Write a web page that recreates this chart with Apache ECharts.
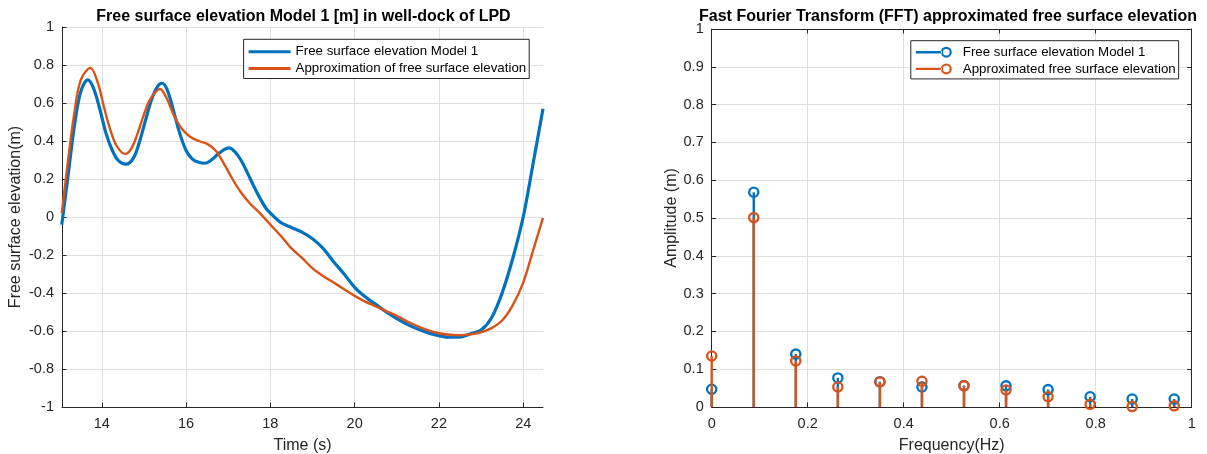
<!DOCTYPE html>
<html>
<head>
<meta charset="utf-8">
<script src="https://cdn.jsdelivr.net/npm/echarts@6/dist/echarts.min.js"></script>
<style>
  html, body { margin: 0; padding: 0; background: #fff; }
  #chart { width: 1207px; height: 454px; }
</style>
</head>
<body>
<div id="chart"></div>
<script>
// Measured free surface elevation, Model 1 (time in s, elevation in m)
const timeModel = [13.05, 13.2, 13.35, 13.5, 13.67, 13.8, 13.95, 14.1, 14.25, 14.4, 14.57, 14.75, 14.9, 15.05, 15.2, 15.33, 15.43, 15.55, 15.7, 15.85, 16.0, 16.15, 16.3, 16.45, 16.6, 16.75, 16.9, 17.02, 17.15, 17.3, 17.45, 17.6, 17.75, 17.9, 18.05, 18.25, 18.5, 18.75, 19.0, 19.25, 19.5, 19.75, 20.0, 20.25, 20.5, 20.75, 21.0, 21.25, 21.5, 21.75, 22.0, 22.25, 22.5, 22.75, 23.0, 23.25, 23.5, 23.75, 24.0, 24.25, 24.47];
const elevModel = [-0.04, 0.22, 0.48, 0.66, 0.722, 0.68, 0.57, 0.44, 0.35, 0.295, 0.278, 0.31, 0.40, 0.52, 0.63, 0.69, 0.704, 0.67, 0.56, 0.44, 0.35, 0.305, 0.288, 0.283, 0.30, 0.33, 0.355, 0.364, 0.345, 0.30, 0.235, 0.165, 0.10, 0.045, 0.01, -0.03, -0.055, -0.08, -0.115, -0.165, -0.235, -0.30, -0.37, -0.42, -0.46, -0.50, -0.535, -0.565, -0.59, -0.61, -0.624, -0.633, -0.632, -0.615, -0.595, -0.53, -0.40, -0.22, 0.0, 0.3, 0.57];

// Fourier approximation of the same signal
const timeApprox = [13.05, 13.2, 13.35, 13.5, 13.73, 13.9, 14.05, 14.2, 14.35, 14.55, 14.7, 14.85, 15.0, 15.15, 15.38, 15.55, 15.7, 15.85, 16.0, 16.15, 16.3, 16.5, 16.7, 16.9, 17.1, 17.3, 17.5, 17.75, 18.0, 18.25, 18.5, 18.75, 19.0, 19.25, 19.5, 19.75, 20.0, 20.25, 20.5, 20.75, 21.0, 21.25, 21.5, 21.75, 22.0, 22.25, 22.5, 22.75, 23.0, 23.25, 23.5, 23.75, 24.0, 24.25, 24.47];
const elevApprox = [0.02, 0.3, 0.55, 0.72, 0.785, 0.71, 0.58, 0.46, 0.375, 0.332, 0.36, 0.44, 0.54, 0.62, 0.674, 0.62, 0.54, 0.48, 0.44, 0.415, 0.40, 0.385, 0.35, 0.28, 0.20, 0.13, 0.075, 0.02, -0.04, -0.10, -0.165, -0.215, -0.27, -0.31, -0.345, -0.38, -0.415, -0.445, -0.47, -0.495, -0.52, -0.55, -0.575, -0.597, -0.612, -0.62, -0.622, -0.618, -0.607, -0.585, -0.545, -0.465, -0.345, -0.165, -0.005];

// FFT amplitude spectrum
const frequencies = [0, 0.0876, 0.1752, 0.2628, 0.3504, 0.438, 0.5256, 0.6132, 0.7008, 0.7884, 0.876, 0.9636];
const ampModel = [0.047, 0.568, 0.140, 0.077, 0.067, 0.053, 0.057, 0.056, 0.046, 0.027, 0.021, 0.021];
const ampApprox = [0.135, 0.501, 0.122, 0.053, 0.066, 0.068, 0.056, 0.045, 0.027, 0.007, 0.001, 0.003];

// Tick labels
const timeTicks = [14, 16, 18, 20, 22, 24];

const BLUE = '#0072BD';
const ORANGE = '#D95319';
const INK = '#262626';
const GRID = '#dfdfdf';
const FONT = "'Liberation Sans', Arial, Helvetica, sans-serif";

const nameModel = 'Free surface elevation Model 1';
const nameApprox = 'Approximation of free surface elevation';
const nameApproxFFT = 'Approximated free surface elevation';

const zip = (xs, ys) => xs.map((x, i) => [x, ys[i]]);

// Legend symbol for stem plots: a short line ending in an open circle
const stemIcon = 'path://M0 4.3L26 4.3L26 6.7L0 6.7Z' +
  'M36 5.5A5.5 5.5 0 1 0 25 5.5A5.5 5.5 0 1 0 36 5.5Z' +
  'M33.8 5.5A3.3 3.3 0 1 1 27.2 5.5A3.3 3.3 0 1 1 33.8 5.5Z';

function stemSeries(name, color, values) {
  return {
    type: 'custom',
    name: name,
    xAxisIndex: 1,
    yAxisIndex: 1,
    itemStyle: { color: color },
    data: zip(frequencies, values),
    renderItem: function (params, api) {
      const base = api.coord([api.value(0), 0]);
      const tip = api.coord([api.value(0), api.value(1)]);
      return {
        type: 'group',
        children: [
          { type: 'line', shape: { x1: base[0], y1: base[1], x2: tip[0], y2: tip[1] },
            style: { stroke: color, lineWidth: 2.4 } },
          { type: 'circle', shape: { cx: tip[0], cy: tip[1], r: 4.6 },
            style: { fill: 'none', stroke: color, lineWidth: 2.3 } }
        ]
      };
    }
  };
}

const tickStyle = { inside: true, length: 4.5, lineStyle: { color: INK, width: 1 } };
const lineStyleAxis = { onZero: false, lineStyle: { color: INK, width: 1 } };
const labelStyle = { color: INK, fontSize: 14.5, fontFamily: FONT };
const nameStyle = { color: INK, fontSize: 16, fontFamily: FONT };

const chart = echarts.init(document.getElementById('chart'), null, { renderer: 'canvas' });

chart.setOption({
  animation: false,
  backgroundColor: '#fff',
  textStyle: { fontFamily: FONT },
  title: [
    { text: 'Free surface elevation Model 1 [m] in well-dock of LPD',
      left: 303.5, top: 9, padding: 0, textAlign: 'center',
      textStyle: { fontSize: 16, fontWeight: 'bold', color: '#000', fontFamily: FONT } },
    { text: 'Fast Fourier Transform (FFT) approximated free surface elevation',
      left: 948, top: 9, padding: 0, textAlign: 'center',
      textStyle: { fontSize: 16, fontWeight: 'bold', color: '#000', fontFamily: FONT } }
  ],
  grid: [
    { left: 62, top: 27, width: 481, height: 380, outerBoundsMode: 'none' },
    { left: 711.7, top: 29, width: 480, height: 378, outerBoundsMode: 'none' }
  ],
  legend: [
    { orient: 'vertical', left: 243.6, top: 39.3, selectedMode: false,
      data: [
        { name: nameModel, icon: 'rect', itemStyle: { color: BLUE, borderWidth: 0 } },
        { name: nameApprox, icon: 'rect', itemStyle: { color: ORANGE, borderWidth: 0 } }
      ],
      itemWidth: 42, itemHeight: 3, itemGap: 3.7,
      padding: [6, 3, 3.5, 5],
      borderColor: INK, borderWidth: 1, borderRadius: 0, backgroundColor: '#fff',
      textStyle: { fontSize: 13.3, color: '#000', fontFamily: FONT } },
    { orient: 'vertical', left: 910.8, top: 40.7, selectedMode: false,
      data: [
        { name: nameModel, icon: stemIcon, itemStyle: { color: BLUE, borderWidth: 0 } },
        { name: nameApproxFFT, icon: stemIcon, itemStyle: { color: ORANGE, borderWidth: 0 } }
      ],
      itemWidth: 36, itemHeight: 11, itemGap: 3.7,
      padding: [5, 3, 3.5, 5],
      borderColor: INK, borderWidth: 1, borderRadius: 0, backgroundColor: '#fff',
      textStyle: { fontSize: 13.3, color: '#000', fontFamily: FONT, padding: [0, 0, 0, 6] } }
  ],
  xAxis: [
    { gridIndex: 0, type: 'value', min: 13.055, max: 24.47,
      axisLine: lineStyleAxis,
      axisTick: Object.assign({ customValues: timeTicks }, tickStyle),
      axisLabel: Object.assign({ customValues: timeTicks, margin: 9 }, labelStyle),
      splitLine: { show: true, lineStyle: { color: GRID, width: 1 } },
      name: 'Time (s)', nameLocation: 'middle', nameGap: 31, nameTextStyle: nameStyle },
    { gridIndex: 1, type: 'value', min: 0, max: 1, interval: 0.2,
      axisLine: lineStyleAxis, axisTick: tickStyle,
      axisLabel: Object.assign({ margin: 9 }, labelStyle),
      splitLine: { show: true, lineStyle: { color: GRID, width: 1 } },
      name: 'Frequency(Hz)', nameLocation: 'middle', nameGap: 31, nameTextStyle: nameStyle },
    { gridIndex: 1, type: 'value', position: 'top', min: 0, max: 1, interval: 0.2,
      axisLine: lineStyleAxis, axisTick: tickStyle,
      axisLabel: { show: false }, splitLine: { show: false } }
  ],
  yAxis: [
    { gridIndex: 0, type: 'value', min: -1, max: 1, interval: 0.2,
      axisLine: Object.assign({ show: true }, lineStyleAxis), axisTick: Object.assign({ show: true }, tickStyle),
      axisLabel: Object.assign({ margin: 8 }, labelStyle),
      splitLine: { show: true, lineStyle: { color: GRID, width: 1 } },
      name: 'Free surface elevation(m)', nameLocation: 'middle', nameGap: 38, nameTextStyle: nameStyle },
    { gridIndex: 1, type: 'value', min: 0, max: 1, interval: 0.1,
      axisLine: Object.assign({ show: true }, lineStyleAxis), axisTick: Object.assign({ show: true }, tickStyle),
      axisLabel: Object.assign({ margin: 8 }, labelStyle),
      splitLine: { show: true, lineStyle: { color: GRID, width: 1 } },
      name: 'Amplitude (m)', nameLocation: 'middle', nameGap: 32, nameTextStyle: nameStyle },
    { gridIndex: 1, type: 'value', position: 'right', min: 0, max: 1, interval: 0.1,
      axisLine: Object.assign({ show: true }, lineStyleAxis), axisTick: Object.assign({ show: true }, tickStyle),
      axisLabel: { show: false }, splitLine: { show: false } }
  ],
  series: [
    { type: 'line', name: nameModel, xAxisIndex: 0, yAxisIndex: 0,
      data: zip(timeModel, elevModel), showSymbol: false, symbol: 'none', smooth: 0.35,
      color: BLUE, lineStyle: { color: BLUE, width: 3.2 } },
    { type: 'line', name: nameApprox, xAxisIndex: 0, yAxisIndex: 0,
      data: zip(timeApprox, elevApprox), showSymbol: false, symbol: 'none', smooth: 0.35,
      color: ORANGE, lineStyle: { color: ORANGE, width: 2.4 } },
    stemSeries(nameModel, BLUE, ampModel),
    stemSeries(nameApproxFFT, ORANGE, ampApprox)
  ]
});
</script>
</body>
</html>
